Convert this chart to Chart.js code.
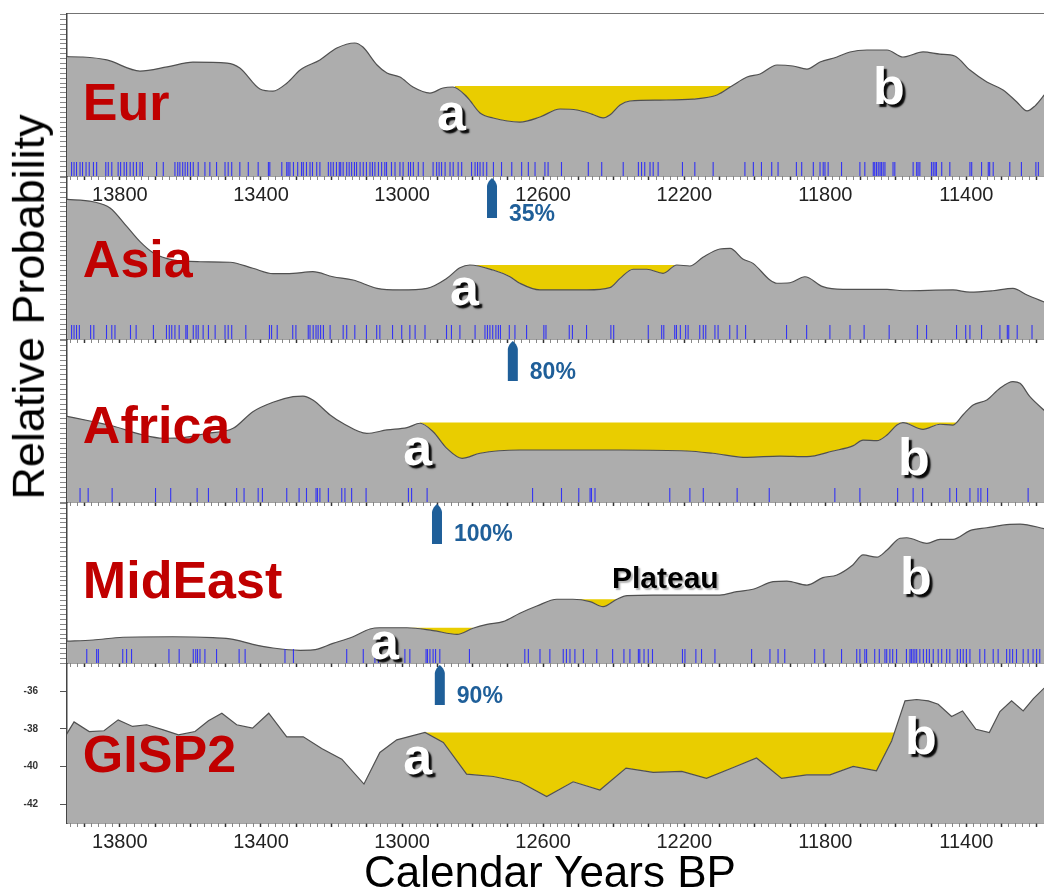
<!DOCTYPE html>
<html>
<head>
<meta charset="utf-8">
<title>Relative probability of dates around the Younger Dryas onset</title>
<script src="https://cdn.jsdelivr.net/npm/chart.js@4.4.1/dist/chart.umd.min.js"></script>
<style>
  html, body { margin: 0; padding: 0; background: #fff; }
  body { position: relative; width: 1044px; height: 892px; overflow: hidden; font-family: "Liberation Sans", Arial, sans-serif; }
  .panel { position: absolute; left: 0; width: 1044px; }
  #yTitle { position: absolute; left: 29px; top: 307px; transform: translate(-50%, -50%) rotate(-90deg);
            font-size: 45px; line-height: 1.117; white-space: nowrap; color: #000; }
  #xTitle { position: absolute; left: 550px; top: 850px; transform: translateX(-50%);
            font-size: 44px; line-height: 1; white-space: nowrap; color: #000; }
</style>
</head>
<body>
<div class="panel" style="top:13px;height:193px"><canvas id="eurChart"></canvas></div>
<div class="panel" style="top:176px;height:169px"><canvas id="asiaChart"></canvas></div>
<div class="panel" style="top:339px;height:169px"><canvas id="africaChart"></canvas></div>
<div class="panel" style="top:502px;height:167px"><canvas id="mideastChart"></canvas></div>
<div class="panel" style="top:663px;height:190px"><canvas id="gispChart"></canvas></div>
<div id="yTitle">Relative Probability</div>
<div id="xTitle">Calendar Years BP</div>

<script>
// --- data (years BP, relative probability 0..1, GISP2 in per mil) ---
const tickYears = [13800, 13400, 13000, 12600, 12200, 11800, 11400];

const eurYears = [13955, 13905, 13837, 13743, 13666, 13593, 13496, 13460, 13403, 13366, 13326, 13289, 13233, 13185, 13134, 13111, 13071, 13043, 13006, 12969, 12921, 12884, 12856, 12816, 12779, 12742, 12666, 12609, 12552, 12504, 12462, 12430, 12411, 12382, 12354, 12269, 12175, 12107, 12065, 12022, 11985, 11937, 11892, 11852, 11815, 11767, 11730, 11682, 11625, 11580, 11523, 11475, 11433, 11390, 11342, 11296, 11257, 11228, 11206, 11175];
const eurProb = [0.732, 0.730, 0.712, 0.644, 0.669, 0.699, 0.693, 0.663, 0.534, 0.521, 0.571, 0.650, 0.712, 0.785, 0.816, 0.791, 0.681, 0.632, 0.607, 0.546, 0.509, 0.540, 0.546, 0.485, 0.387, 0.356, 0.331, 0.362, 0.411, 0.405, 0.380, 0.356, 0.374, 0.436, 0.460, 0.466, 0.472, 0.497, 0.552, 0.607, 0.626, 0.681, 0.675, 0.656, 0.699, 0.730, 0.761, 0.773, 0.773, 0.730, 0.761, 0.748, 0.736, 0.650, 0.577, 0.528, 0.454, 0.399, 0.429, 0.509];

const asiaYears = [13955, 13876, 13828, 13780, 13743, 13706, 13650, 13573, 13488, 13423, 13366, 13309, 13253, 13196, 13139, 13071, 13006, 12929, 12873, 12836, 12808, 12742, 12694, 12666, 12609, 12476, 12411, 12382, 12345, 12306, 12260, 12221, 12184, 12147, 12099, 12070, 12034, 12005, 11957, 11937, 11900, 11858, 11807, 11750, 11625, 11580, 11438, 11390, 11325, 11268, 11228, 11175];
const asiaProb = [0.857, 0.842, 0.804, 0.689, 0.597, 0.529, 0.485, 0.474, 0.471, 0.434, 0.401, 0.403, 0.413, 0.382, 0.362, 0.311, 0.301, 0.311, 0.372, 0.437, 0.454, 0.423, 0.382, 0.342, 0.301, 0.301, 0.315, 0.372, 0.428, 0.428, 0.403, 0.454, 0.448, 0.501, 0.552, 0.556, 0.491, 0.464, 0.362, 0.342, 0.345, 0.382, 0.321, 0.305, 0.305, 0.296, 0.301, 0.287, 0.296, 0.311, 0.270, 0.223];

const africaYears = [13955, 13885, 13820, 13735, 13678, 13630, 13553, 13479, 13423, 13366, 13309, 13281, 13253, 13204, 13168, 13100, 13043, 12986, 12949, 12912, 12873, 12830, 12779, 12666, 12382, 12192, 12119, 12022, 11929, 11852, 11778, 11722, 11693, 11654, 11625, 11597, 11580, 11523, 11475, 11438, 11410, 11381, 11342, 11305, 11268, 11248, 11220, 11175];
const africaProb = [0.528, 0.497, 0.466, 0.411, 0.391, 0.393, 0.421, 0.452, 0.554, 0.612, 0.646, 0.650, 0.626, 0.534, 0.483, 0.421, 0.442, 0.456, 0.483, 0.431, 0.329, 0.268, 0.299, 0.319, 0.319, 0.313, 0.299, 0.274, 0.282, 0.278, 0.313, 0.344, 0.380, 0.376, 0.411, 0.472, 0.487, 0.446, 0.477, 0.472, 0.534, 0.595, 0.626, 0.698, 0.738, 0.728, 0.646, 0.554];

const mideastYears = [13955, 13876, 13791, 13650, 13536, 13479, 13423, 13366, 13289, 13253, 13196, 13139, 13091, 13063, 12986, 12912, 12844, 12799, 12759, 12714, 12666, 12618, 12561, 12516, 12467, 12430, 12391, 12362, 12289, 12099, 12051, 12005, 11948, 11909, 11852, 11807, 11767, 11722, 11693, 11654, 11625, 11588, 11569, 11512, 11475, 11438, 11390, 11342, 11277, 11248, 11175];
const mideastProb = [0.135, 0.143, 0.160, 0.163, 0.157, 0.147, 0.116, 0.093, 0.079, 0.081, 0.122, 0.163, 0.211, 0.219, 0.219, 0.201, 0.178, 0.216, 0.240, 0.257, 0.309, 0.354, 0.396, 0.396, 0.381, 0.350, 0.396, 0.418, 0.422, 0.422, 0.443, 0.458, 0.505, 0.509, 0.484, 0.530, 0.547, 0.609, 0.671, 0.657, 0.702, 0.775, 0.778, 0.743, 0.768, 0.768, 0.822, 0.840, 0.861, 0.863, 0.832];

const gispYears = [13955, 13930, 13887, 13845, 13805, 13764, 13724, 13677, 13634, 13587, 13549, 13511, 13469, 13424, 13378, 13327, 13280, 13228, 13171, 13108, 13063, 13015, 12935, 12883, 12817, 12741, 12666, 12590, 12515, 12439, 12365, 12288, 12207, 12137, 12061, 11995, 11924, 11853, 11787, 11721, 11655, 11612, 11574, 11541, 11508, 11480, 11442, 11411, 11373, 11335, 11305, 11272, 11239, 11210, 11175];
const gispD18O = [-38.40, -37.63, -38.14, -38.10, -37.52, -37.87, -37.78, -38.05, -38.32, -38.14, -37.57, -37.17, -37.78, -37.96, -37.17, -38.42, -38.42, -39.04, -39.61, -40.93, -39.25, -38.58, -38.19, -38.72, -40.40, -40.53, -40.82, -41.59, -40.81, -41.25, -40.08, -40.31, -40.26, -40.63, -40.05, -39.55, -40.63, -40.44, -40.44, -39.99, -40.23, -38.64, -36.51, -36.44, -36.51, -36.69, -37.34, -37.05, -38.02, -38.19, -37.08, -36.51, -37.05, -36.39, -35.75];
const gispTicks = [-36, -38, -40, -42];

// individual dated samples (the blue rug along each baseline)
const eurDates = [13937, 13930, 13923, 13913, 13906, 13896, 13887, 13875, 13866, 13840, 13833, 13823, 13805, 13798, 13788, 13781, 13771, 13762, 13753, 13743, 13736, 13696, 13677, 13644, 13636, 13630, 13622, 13615, 13608, 13600, 13592, 13578, 13559, 13545, 13526, 13502, 13493, 13483, 13460, 13436, 13408, 13379, 13375, 13341, 13327, 13323, 13318, 13308, 13296, 13285, 13280, 13271, 13261, 13254, 13242, 13233, 13209, 13202, 13195, 13186, 13178, 13174, 13167, 13157, 13150, 13143, 13135, 13129, 13119, 13110, 13101, 13091, 13084, 13077, 13067, 13058, 13049, 13044, 13030, 13020, 13006, 12997, 12982, 12976, 12968, 12954, 12940, 12912, 12902, 12895, 12888, 12878, 12864, 12855, 12841, 12831, 12803, 12793, 12786, 12779, 12770, 12760, 12741, 12718, 12689, 12661, 12642, 12623, 12595, 12586, 12548, 12472, 12434, 12373, 12330, 12321, 12312, 12297, 12288, 12274, 12205, 12170, 12118, 12028, 12004, 11981, 11952, 11934, 11882, 11867, 11834, 11815, 11806, 11801, 11792, 11754, 11702, 11688, 11664, 11660, 11655, 11650, 11645, 11641, 11636, 11631, 11608, 11603, 11551, 11541, 11537, 11532, 11499, 11494, 11489, 11485, 11470, 11447, 11390, 11385, 11357, 11338, 11334, 11324, 11277, 11244, 11203, 11196];
const asiaDates = [13937, 13930, 13923, 13915, 13883, 13874, 13838, 13823, 13814, 13770, 13754, 13705, 13668, 13660, 13653, 13644, 13632, 13613, 13609, 13592, 13584, 13578, 13564, 13549, 13530, 13502, 13493, 13483, 13443, 13376, 13370, 13354, 13310, 13301, 13266, 13261, 13252, 13244, 13238, 13231, 13223, 13204, 13167, 13157, 13134, 13101, 13072, 13063, 13027, 13001, 12978, 12963, 12935, 12874, 12860, 12836, 12793, 12765, 12758, 12751, 12743, 12734, 12727, 12721, 12696, 12680, 12647, 12598, 12592, 12526, 12517, 12477, 12408, 12400, 12302, 12264, 12258, 12227, 12222, 12211, 12196, 12189, 12156, 12146, 12139, 12113, 12104, 12071, 12050, 12026, 11910, 11853, 11787, 11730, 11690, 11619, 11539, 11513, 11428, 11402, 11390, 11357, 11305, 11284, 11280, 11256, 11214];
const africaDates = [13913, 13890, 13822, 13699, 13656, 13581, 13549, 13469, 13448, 13408, 13396, 13327, 13292, 13271, 13244, 13240, 13233, 13209, 13171, 13162, 13143, 13102, 12982, 12973, 12929, 12630, 12548, 12499, 12467, 12463, 12453, 12241, 12184, 12146, 12050, 11959, 11773, 11702, 11595, 11551, 11524, 11447, 11428, 11390, 11367, 11359, 11340, 11225];
const mideastDates = [13894, 13866, 13861, 13792, 13781, 13767, 13661, 13632, 13592, 13585, 13580, 13573, 13559, 13526, 13462, 13445, 13332, 13308, 13157, 13110, 13077, 13067, 12992, 12978, 12932, 12928, 12921, 12912, 12905, 12893, 12809, 12652, 12642, 12609, 12581, 12543, 12534, 12524, 12510, 12486, 12448, 12403, 12371, 12354, 12330, 12326, 12314, 12302, 12290, 12205, 12198, 12167, 12151, 12113, 12009, 11957, 11934, 11915, 11830, 11804, 11754, 11711, 11702, 11688, 11683, 11660, 11647, 11631, 11626, 11617, 11609, 11598, 11570, 11560, 11556, 11551, 11546, 11541, 11532, 11522, 11513, 11505, 11494, 11480, 11470, 11456, 11447, 11426, 11417, 11409, 11400, 11390, 11362, 11348, 11324, 11310, 11286, 11277, 11269, 11258, 11239, 11225, 11211, 11201, 11192];

// yellow deficit bands: [from year, to year, level]
const eurGaps = [[12850, 12065, 0.552]];
const asiaGaps = [[12808, 12226, 0.454]];
const africaGaps = [[12949, 11427, 0.487]];
const mideastGaps = [[12986, 12799, 0.219], [12516, 12391, 0.396]];
const gispGaps = [[12935, 11600, -38.19]];

// --- styling ---
const FONT = '"Liberation Sans", Arial, sans-serif';
const GRAY = '#adadad';
const YELLOW = '#e9cd00';
const RED = '#c00000';
const BLUE = '#1f5f99';

Chart.defaults.font.family = FONT;
Chart.defaults.color = '#222';

// draws region name, a/b markers, the blue arrow and the top rule for one panel
function makeNotes(n) {
    return {
        id: 'notes',
        afterDatasetsDraw(chart) {
            const { ctx, chartArea: area, scales: { x, y } } = chart;
            ctx.save();

            if (n.topRule) {
                ctx.strokeStyle = '#444';
                ctx.lineWidth = 1.5;
                ctx.beginPath();
                ctx.moveTo(area.left, area.top);
                ctx.lineTo(area.right, area.top);
                ctx.stroke();
            }

            ctx.textBaseline = 'alphabetic';
            ctx.textAlign = 'left';
            ctx.font = 'bold 52px ' + FONT;
            ctx.fillStyle = RED;
            ctx.fillText(n.name, x.getPixelForValue(13905), y.getPixelForValue(n.nameAt));

            // white letters with a hard black drop shadow
            ctx.fillStyle = '#fff';
            ctx.shadowColor = 'rgba(0,0,0,0.95)';
            ctx.shadowOffsetX = 3;
            ctx.shadowOffsetY = 3;
            ctx.shadowBlur = 1.5;
            (n.marks || []).forEach(([txt, yr, val]) => {
                ctx.fillText(txt, x.getPixelForValue(yr), y.getPixelForValue(val));
            });

            if (n.plateau) {
                const [txt, yr, val] = n.plateau;
                ctx.font = 'bold 30px ' + FONT;
                ctx.fillStyle = '#000';
                ctx.shadowColor = 'rgba(0,0,0,0.3)';
                ctx.shadowOffsetX = 2;
                ctx.shadowOffsetY = 2;
                ctx.fillText(txt, x.getPixelForValue(yr), y.getPixelForValue(val));
            }

            ctx.shadowColor = 'rgba(0,0,0,0)';
            if (n.arrow) {
                const [yr, label, textDy] = n.arrow;
                const px = x.getPixelForValue(yr);
                const top = area.top + 2;
                ctx.fillStyle = BLUE;
                ctx.beginPath();
                ctx.moveTo(px - 5, top + 40);
                ctx.lineTo(px - 5, top + 8);
                ctx.quadraticCurveTo(px - 4, top + 3, px, top);
                ctx.quadraticCurveTo(px + 4, top + 3, px + 5, top + 8);
                ctx.lineTo(px + 5, top + 40);
                ctx.closePath();
                ctx.fill();
                ctx.font = 'bold 23px ' + FONT;
                ctx.textBaseline = 'middle';
                ctx.fillText(label, px + 17, top + textDy);
            }
            ctx.restore();
        }
    };
}

function xAxis(showLabels) {
    return {
        type: 'linear',
        reverse: true,
        min: 11180,
        max: 13950,
        ticks: {
            stepSize: 20,
            autoSkip: false,
            maxRotation: 0,
            includeBounds: false,
            display: showLabels,
            padding: 3,
            font: { size: 20 },
            color: '#222',
            callback: v => tickYears.includes(v) ? String(v) : ''
        },
        grid: {
            drawOnChartArea: false,
            tickLength: 4,
            tickColor: c => (c.tick && c.tick.value % 100 === 0) ? '#333' : '#888',
            tickWidth: c => (c.tick && c.tick.value % 100 === 0) ? 1.5 : 1
        },
        border: { color: '#444', width: 1.5 },
        afterFit: s => { s.height = showLabels ? 30 : 6; s.paddingLeft = 0; s.paddingRight = 0; }
    };
}

function probAxis() {
    return {
        min: 0,
        max: 1,
        ticks: { stepSize: 0.03, display: false, includeBounds: false },
        grid: { drawOnChartArea: false, tickLength: 7, tickColor: '#888' },
        border: { color: '#444', width: 1.5 },
        afterFit: s => { s.width = 67; s.paddingTop = 0; s.paddingBottom = 0; }
    };
}

const gispAxis = {
    min: -43,
    max: -34.5,
    ticks: {
        stepSize: 2,
        includeBounds: false,
        padding: 22,
        font: { size: 10, weight: 'bold' },
        color: '#333',
        callback: v => gispTicks.includes(v) ? String(v) : ''
    },
    grid: { drawOnChartArea: false, tickLength: 7, tickColor: '#555' },
    border: { color: '#444', width: 1.5 },
    afterFit: s => { s.width = 67; s.paddingTop = 0; s.paddingBottom = 0; }
};

function drawPanel(id, p) {
    // order: yellow bands underneath, curve above them, date rug on top
    const datasets = [{
        data: p.years.map((yr, i) => ({ x: yr, y: p.values[i] })),
        borderColor: '#505050',
        borderWidth: 1.2,
        backgroundColor: GRAY,
        fill: 'start',
        pointRadius: 0,
        tension: 0,
        cubicInterpolationMode: p.smooth ? 'monotone' : 'default',
        order: 1
    }];

    p.gaps.forEach(([from, to, level]) => {
        datasets.push({
            data: [{ x: from, y: level }, { x: to, y: level }],
            showLine: false,
            borderWidth: 0,
            borderColor: 'rgba(0,0,0,0)',
            pointRadius: 0,
            fill: { target: 0, above: YELLOW, below: 'rgba(0,0,0,0)' },
            order: 2
        });
    });

    if (p.dates) {
        datasets.push({
            data: p.dates.map(d => ({ x: d, y: 0.043 })),
            showLine: false,
            fill: false,
            pointStyle: 'line',
            pointRotation: 90,
            pointRadius: 7,
            pointBorderColor: 'rgba(30,30,255,0.85)',
            pointBorderWidth: 1.1,
            order: 0
        });
    }

    return new Chart(document.getElementById(id), {
        type: 'line',
        data: { datasets },
        options: {
            responsive: true,
            maintainAspectRatio: false,
            animation: false,
            events: [],
            layout: { padding: 0, autoPadding: false },
            plugins: { legend: { display: false }, tooltip: { enabled: false } },
            scales: { x: xAxis(p.labels), y: p.yScale }
        },
        plugins: [makeNotes(p.notes)]
    });
}

drawPanel('eurChart', {
    years: eurYears, values: eurProb, gaps: eurGaps, dates: eurDates, smooth: true,
    labels: true, yScale: probAxis(),
    notes: { topRule: true, name: 'Eur', nameAt: 0.344,
             marks: [['a', 12901, 0.282], ['b', 11665, 0.442]] }
});

drawPanel('asiaChart', {
    years: asiaYears, values: asiaProb, gaps: asiaGaps, dates: asiaDates, smooth: true,
    labels: false, yScale: probAxis(),
    notes: { name: 'Asia', nameAt: 0.380, marks: [['a', 12864, 0.209]],
             arrow: [12745, '35%', 37] }
});

drawPanel('africaChart', {
    years: africaYears, values: africaProb, gaps: africaGaps, dates: africaDates, smooth: true,
    labels: false, yScale: probAxis(),
    notes: { name: 'Africa', nameAt: 0.362,
             marks: [['a', 12997, 0.227], ['b', 11594, 0.166]],
             arrow: [12686, '80%', 32] }
});

drawPanel('mideastChart', {
    years: mideastYears, values: mideastProb, gaps: mideastGaps, dates: mideastDates, smooth: true,
    labels: false, yScale: probAxis(),
    notes: { name: 'MidEast', nameAt: 0.404,
             marks: [['a', 13091, 0.025], ['b', 11588, 0.429]],
             plateau: ['Plateau', 12405, 0.466],
             arrow: [12901, '100%', 31] }
});

drawPanel('gispChart', {
    years: gispYears, values: gispD18O, gaps: gispGaps, smooth: false,
    labels: true, yScale: gispAxis,
    notes: { name: 'GISP2', nameAt: -40.30,
             marks: [['a', 12997, -40.40], ['b', 11574, -39.34]],
             arrow: [12893, '90%', 32] }
});
</script>
</body>
</html>
